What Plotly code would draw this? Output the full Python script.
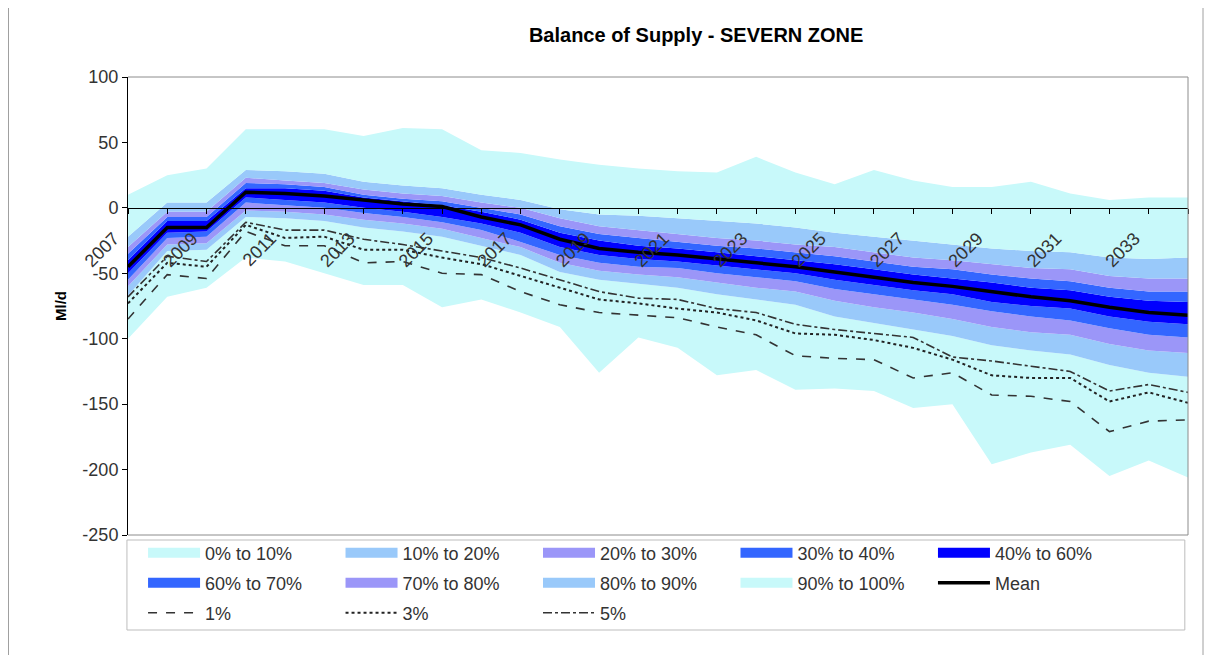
import plotly.graph_objects as go

years = list(range(2007, 2035))
year_labels = [str(y) for y in years[::2]]
y_ticks = [-250, -200, -150, -100, -50, 0, 50, 100]
y_tick_labels = ["-250", "-200", "-150", "-100", "-50", "0", "50", "100"]

# percentile boundaries (Ml/d)
p0 = [-100, -68, -61, -38, -41, -50, -59, -59, -76, -70, -80, -91, -126, -99,
      -107, -128, -124, -139, -138, -140, -153, -150, -196, -187, -181, -205, -193, -206]
p10 = [-67, -33, -32, -7, -8, -10, -15, -18, -22, -29, -36, -49, -55, -58,
       -61, -66, -70, -74, -83, -88, -93, -98, -105, -109, -112, -120, -126, -129]
p20 = [-60, -28, -27, -2, -3, -5, -9, -12, -16, -23, -30, -42, -48, -51,
       -53, -57, -61, -64, -71, -76, -80, -85, -91, -95, -97, -104, -109, -111]
p30 = [-55, -23, -22, 4, 2, 0, -4, -7, -11, -17, -26, -36, -42, -45,
       -46, -50, -53, -56, -62, -66, -70, -74, -79, -83, -86, -92, -97, -99]
p40 = [-50, -19, -18, 8, 6, 4, 0, -3, -7, -12, -19, -30, -36, -39,
       -41, -44, -47, -50, -55, -59, -63, -66, -72, -75, -77, -83, -87, -89]
p60 = [-40, -10, -10, 15, 15, 13, 8, 5, 2, -3, -9, -19, -25, -29,
       -31, -34, -37, -40, -43, -47, -51, -54, -57, -61, -63, -68, -71, -72]
p70 = [-35, -7, -7, 19, 18, 16, 10, 7, 5, 0, -5, -14, -20, -23,
       -26, -29, -31, -34, -37, -41, -45, -47, -51, -54, -56, -61, -64, -64]
p80 = [-30, -3, -3, 23, 21, 19, 14, 11, 9, 4, 0, -8, -14, -17,
       -20, -23, -25, -28, -30, -34, -38, -40, -43, -46, -47, -52, -54, -54]
p90 = [-22, 4, 4, 29, 28, 26, 20, 17, 15, 10, 6, -1, -5, -6,
       -8, -10, -12, -15, -19, -22, -25, -28, -31, -33, -34, -38, -39, -38]
p100 = [10, 25, 30, 60, 60, 60, 55, 61, 60, 44, 42, 37, 33, 30,
        28, 27, 39, 27, 18, 29, 21, 16, 16, 20, 11, 6, 8, 8]

mean = [-45, -15, -15, 12, 11, 9, 6, 3, 1, -7, -13, -24, -31, -34,
        -36, -39, -42, -45, -49, -53, -57, -60, -64, -68, -71, -76, -80, -82]
pct1 = [-85, -51, -54, -18, -29, -29, -42, -41, -50, -51, -64, -74, -80, -82,
        -84, -91, -97, -113, -115, -116, -130, -126, -143, -144, -148, -171, -163, -162]
pct3 = [-73, -42, -45, -13, -23, -22, -32, -32, -38, -43, -52, -61, -70, -73,
        -77, -80, -86, -96, -97, -101, -107, -116, -128, -130, -130, -148, -141, -149]
pct5 = [-68, -37, -41, -11, -17, -17, -24, -28, -33, -38, -46, -55, -64, -69,
        -70, -77, -80, -89, -93, -96, -99, -114, -117, -121, -125, -140, -135, -141]

band_names = ["0% to 10%", "10% to 20%", "20% to 30%", "30% to 40%", "40% to 60%",
              "60% to 70%", "70% to 80%", "80% to 90%", "90% to 100%"]
band_tops = [p10, p20, p30, p40, p60, p70, p80, p90, p100]

CYAN = "#C8F9FA"
LBLUE = "#99C9FA"
LAV = "#9B96F8"
MBLUE = "#3366FF"
DBLUE = "#0000FF"
band_colors = [CYAN, LBLUE, LAV, MBLUE, DBLUE, MBLUE, LAV, LBLUE, CYAN]
band_legend = ["legend", "legend", "legend", "legend", "legend",
               "legend2", "legend2", "legend2", "legend2"]

FONT = "Liberation Sans, Arial, sans-serif"

fig = go.Figure()

# filled percentile bands
fig.add_trace(go.Scatter(x=years, y=p0, mode="lines", line=dict(width=0),
                         showlegend=False, hoverinfo="skip"))
for name, top, col in zip(band_names, band_tops, band_colors):
    fig.add_trace(go.Scatter(x=years, y=top, name=name, mode="lines",
                             line=dict(width=0, color=col), fill="tonexty",
                             fillcolor=col, showlegend=False))

# legend swatches for the bands (thick line keys)
for name, col, lg in zip(band_names, band_colors, band_legend):
    fig.add_trace(go.Scatter(x=[None], y=[None], name=name, mode="lines",
                             line=dict(width=14, color=col), legend=lg))

fig.add_trace(go.Scatter(x=years, y=mean, name="Mean", mode="lines",
                         line=dict(color="black", width=3.5), legend="legend2"))
fig.add_trace(go.Scatter(x=years, y=pct1, name="1%", mode="lines",
                         line=dict(color="#333333", width=1.6, dash="dash"), legend="legend3"))
fig.add_trace(go.Scatter(x=years, y=pct3, name="3%", mode="lines",
                         line=dict(color="#222222", width=2, dash="dot"), legend="legend3"))
fig.add_trace(go.Scatter(x=years, y=pct5, name="5%", mode="lines",
                         line=dict(color="#333333", width=1.6, dash="dashdot"), legend="legend3"))

legend_common = dict(orientation="h", xanchor="left", yanchor="middle",
                     traceorder="normal",
                     entrywidthmode="fraction", entrywidth=0.1863,
                     itemwidth=52, bgcolor="rgba(0,0,0,0)",
                     font=dict(family=FONT, size=18, color="#333333"))

# page has an 8px body margin, so the figure is 8px smaller and shifted
fig.update_layout(
    width=1205,
    height=647,
    margin=dict(l=120, r=25, t=69, b=120),
    paper_bgcolor="white",
    plot_bgcolor="white",
    font=dict(family=FONT, size=18, color="#333333"),
    title=dict(text="<b>Balance of Supply - SEVERN ZONE</b>",
               font=dict(family=FONT, size=20, color="black"),
               x=0.536, xref="paper", xanchor="center",
               y=1 - 27 / 647, yref="container", yanchor="middle"),
    xaxis=dict(range=[2007, 2034], anchor="free", position=250 / 350,
               showline=True, linecolor="black", linewidth=1,
               tickvals=years[::2], ticktext=year_labels, tickangle=-45,
               ticks="outside", ticklen=5, tickcolor="black",
               ticklabelstandoff=7, ticklabelshift=-14,
               minor=dict(ticks="outside", dtick=1, tick0=2007, ticklen=5,
                          tickcolor="black"),
               showgrid=False, zeroline=False,
               tickfont=dict(family=FONT, size=18, color="#333333")),
    yaxis=dict(range=[-250, 100], tickvals=y_ticks, ticktext=y_tick_labels,
               showline=True, linecolor="black",
               linewidth=1, ticks="outside", ticklen=5, tickcolor="black",
               showgrid=False, zeroline=False,
               tickfont=dict(family=FONT, size=18, color="#333333"),
               title=dict(text="<b>Ml/d</b>", standoff=12,
                          font=dict(family=FONT, size=15, color="black"))),
    legend=dict(x=0.0142, y=(527 - 545) / 458, **legend_common),
    legend2=dict(x=0.0142, y=(527 - 575) / 458, **legend_common),
    legend3=dict(x=0.0142, y=(527 - 605) / 458, **legend_common),
    shapes=[
        dict(type="path", xref="paper", yref="paper", path="M0,1 L1,1 L1,0 L0,0",
             line=dict(color="#8C8C8C", width=1)),
        dict(type="rect", xref="paper", yref="paper",
             x0=-0.001, x1=0.997, y0=(527 - 622) / 458, y1=(527 - 532) / 458,
             line=dict(color="#BDBDBD", width=1)),
        dict(type="rect", xref="paper", yref="paper",
             x0=(0.5 - 120) / 1060, x1=(1195 - 120) / 1060,
             y0=(527 - 660) / 458, y1=(527 + 3) / 458,
             line=dict(color="#A0A0A0", width=1)),
    ],
)

fig.write_html("out.html")
